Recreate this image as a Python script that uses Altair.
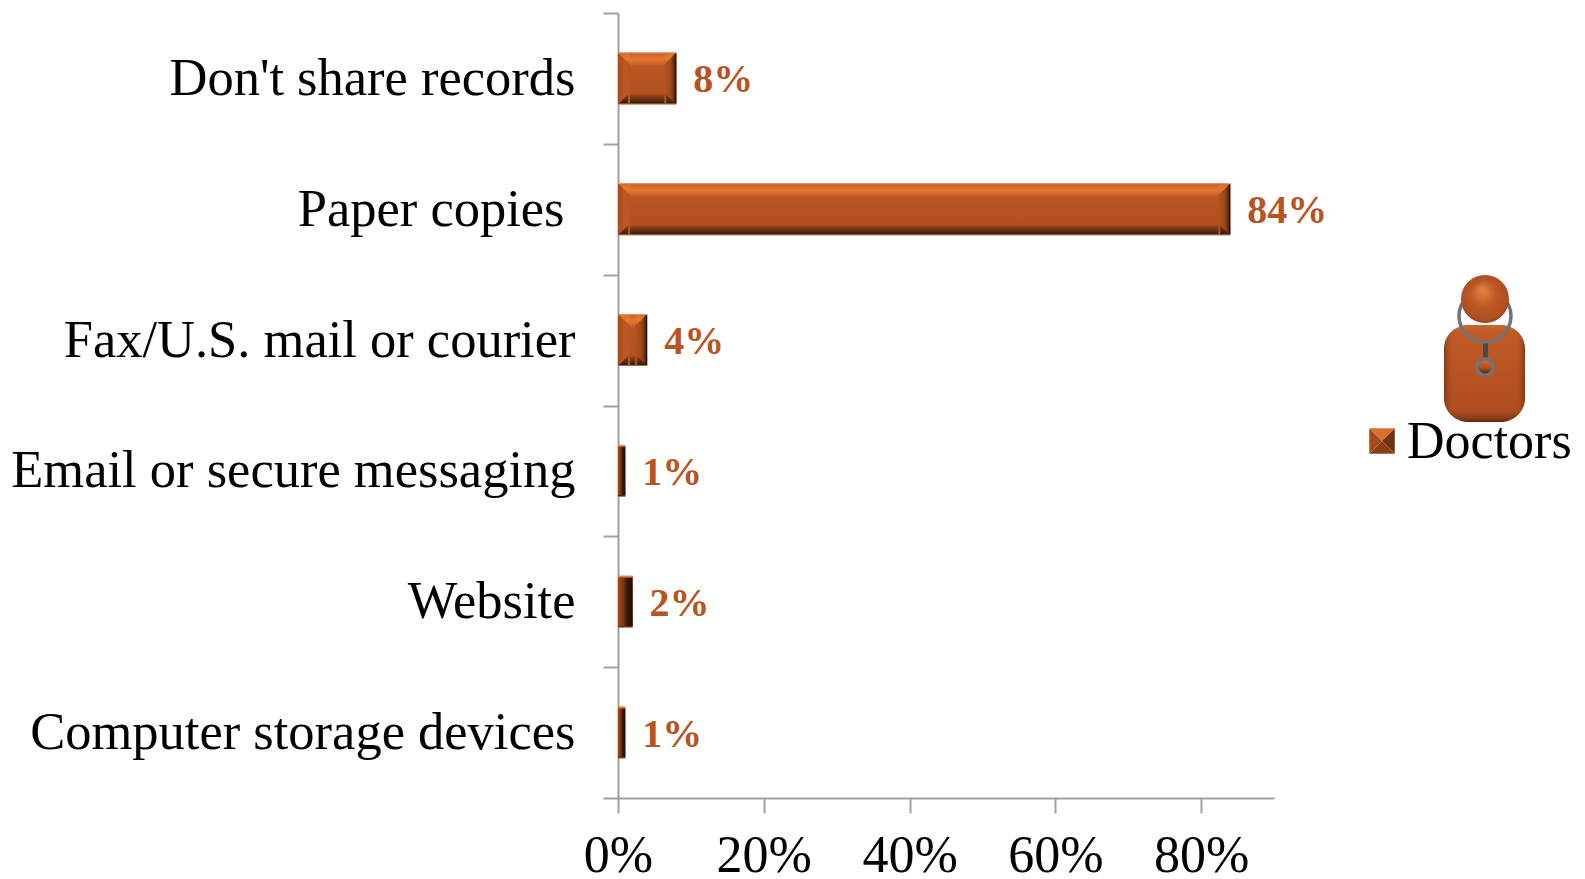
import altair as alt
import pandas as pd

# Survey results: how doctors share patient records
categories = ["Don't share records", "Paper copies", "Fax/U.S. mail or courier",
              "Email or secure messaging", "Website", "Computer storage devices"]
shares = [8, 84, 4, 1, 2, 1]
series = ["Doctors"] * 6
x_ticks = [0, 20, 40, 60, 80]

FONT = "Liberation Serif"
RUST = "#B85423"
AXIS_GREY = "#A0A0A0"
BAR_SIZE = 52

df = pd.DataFrame({"method": categories, "share": shares, "group": series})


def vgrad(stops):
    return alt.LinearGradient(gradient="linear", x1=0, y1=0, x2=0, y2=1,
                              stops=[alt.GradientStop(offset=o, color=c) for o, c in stops])


def hgrad(stops):
    return alt.LinearGradient(gradient="linear", x1=0, y1=0, x2=1, y2=0,
                              stops=[alt.GradientStop(offset=o, color=c) for o, c in stops])


x_scale = alt.Scale(domain=[0, 90], nice=False)
y_enc = alt.Y("method:N", sort=categories, title=None,
              scale=alt.Scale(paddingInner=0, paddingOuter=0),
              axis=alt.Axis(tickBand="extent", tickSize=15, tickWidth=2, tickColor=AXIS_GREY,
                            domainWidth=2, domainColor=AXIS_GREY,
                            labelPadding={"condition": {"test": "datum.label == 'Paper copies'", "value": 39},
                                          "value": 28},
                            labelFont=FONT, labelFontSize=52.5, labelColor="#000000",
                            labelLimit=620, grid=False))
x_enc = alt.X("share:Q", title=None, scale=x_scale,
              axis=alt.Axis(values=x_ticks, labelExpr="datum.value + '%'", tickSize=15, tickWidth=2,
                            tickColor=AXIS_GREY, domainWidth=2, domainColor=AXIS_GREY,
                            labelPadding=17, labelFont=FONT, labelFontSize=52, labelFlush=False,
                            labelColor="#000000", grid=False, labelOverlap=False))

# Flat base of each bar; also feeds the legend, whose swatch is shaded separately below
base = alt.Chart(df).mark_bar(size=BAR_SIZE).encode(
    y=y_enc, x=x_enc,
    color=alt.Color("group:N", title=None,
                    scale=alt.Scale(range=[RUST]),
                    legend=alt.Legend(orient="none", legendX=737, legendY=403, symbolType="square",
                                      symbolSize=650, symbolStrokeWidth=0, symbolOpacity=0,
                                      labelFont=FONT, labelFontSize=52, labelLimit=300,
                                      labelColor="#000000", labelOffset=0, padding=0, rowPadding=0)),
)

# Top highlight and bottom shadow of the bevel
face = alt.Chart(df).mark_bar(size=BAR_SIZE, fill=vgrad([
    (0, "#E9A07C"), (0.03, "#C9622B"), (0.14, "#E8782F"), (0.24, "#C65E28"), (0.27, "#BA5524"),
    (0.80, "#B25020"), (0.84, "#8A3E18"), (0.95, "#4A2410"), (0.97, "#3A1C0C"), (1, "#D99A78"),
])).encode(y=y_enc, x=x_enc)

wide = alt.Chart(df).transform_filter("datum.share >= 4").transform_calculate(origin="0")
narrow = alt.Chart(df).transform_filter("datum.share < 4").transform_calculate(origin="0")

# Soft left edge of the bevel
left_edge = wide.transform_calculate(edge_end="1.65").mark_bar(size=BAR_SIZE - 2, fill=hgrad([
    (0, "#A84A1C"), (0.6, "#BC5825"), (1, "#B85423"),
])).encode(y=y_enc, x=alt.X("origin:Q", title=None, scale=x_scale), x2="edge_end:Q")

# Shaded right edge of the bevel
right_edge = wide.transform_calculate(
    edge_start="datum.share - min(1.65, datum.share * 0.45)"
).mark_bar(size=BAR_SIZE - 2, fill=hgrad([
    (0, "#B55222"), (0.5, "#A04A1C"), (0.8, "#6B3212"), (0.92, "#2E1608"), (1, "#1C0E04"),
])).encode(y=y_enc, x=alt.X("edge_start:Q", title=None, scale=x_scale), x2="share:Q")

# Slim bars are almost entirely taken up by the bevel's dark side
slim_shade = narrow.mark_bar(size=BAR_SIZE - 4, fill=hgrad([
    (0, "#A84A1C"), (0.35, "#7A3815"), (0.6, "#3A1C0C"), (1, "#1C0E04"),
])).encode(y=y_enc, x=alt.X("origin:Q", title=None, scale=x_scale), x2="share:Q")

TOP_FILL = vgrad([(0, "#E9A07C"), (0.1, "#D8702E"), (0.55, "#E8782F"), (1, "#C65E28")])
BOTTOM_FILL = vgrad([(0, "#8A3E18"), (0.7, "#4A2410"), (0.85, "#3A1C0C"), (1, "#D99A78")])

# Mitred corners where the top and bottom strips meet the side edges
mitre_top_right = wide.mark_point(
    filled=True, opacity=1, strokeWidth=0, shape="M-1,-1 L1,-1 L-1,1 Z", size=144,
    xOffset=-6, yOffset=-20, fill=TOP_FILL,
).encode(y=y_enc, x=x_enc)
mitre_top_left = wide.mark_point(
    filled=True, opacity=1, strokeWidth=0, shape="M-1,-1 L1,-1 L1,1 Z", size=144,
    xOffset=6, yOffset=-20, fill=TOP_FILL,
).encode(y=y_enc, x=alt.X("origin:Q", title=None, scale=x_scale))
mitre_bottom_right = wide.mark_point(
    filled=True, opacity=1, strokeWidth=0, shape="M-1,1 L1,1 L-1,-1 Z", size=100,
    xOffset=-5, yOffset=21, fill=BOTTOM_FILL,
).encode(y=y_enc, x=x_enc)
mitre_bottom_left = wide.mark_point(
    filled=True, opacity=1, strokeWidth=0, shape="M-1,1 L1,1 L1,-1 Z", size=100,
    xOffset=5, yOffset=21, fill=BOTTOM_FILL,
).encode(y=y_enc, x=alt.X("origin:Q", title=None, scale=x_scale))

labels = alt.Chart(df).transform_calculate(pct="datum.share + '%'").mark_text(
    align="left", baseline="middle", dx=17, dy=2, font=FONT, fontWeight="bold", fontSize=40, color=RUST,
).encode(y=y_enc, x=x_enc, text="pct:N")

# Doctor figure above the legend, placed in plot pixels
ICON_X = 867
icon_data = pd.DataFrame({"part": ["doctor"]})

body = alt.Chart(icon_data).mark_rect(cornerRadius=24, fill=vgrad([
    (0, "#C9662C"), (0.08, "#C25A26"), (0.5, "#B85423"), (0.88, "#B04E20"), (0.96, "#8A3C18"), (1, "#5E2A10"),
])).encode(x=alt.value(ICON_X - 41), x2=alt.value(ICON_X + 40), y=alt.value(312), y2=alt.value(409))

body_sides = alt.Chart(icon_data).mark_rect(cornerRadius=24, fill=hgrad([
    (0, "rgba(80,35,10,0.55)"), (0.07, "rgba(120,55,20,0.12)"), (0.14, "rgba(184,84,35,0)"),
    (0.86, "rgba(184,84,35,0)"), (0.93, "rgba(120,55,20,0.12)"), (1, "rgba(80,35,10,0.55)"),
])).encode(x=alt.value(ICON_X - 41), x2=alt.value(ICON_X + 40), y=alt.value(312), y2=alt.value(409))

ring = alt.Chart(icon_data).mark_point(
    shape="circle", filled=False, size=2700, stroke="#6E7478", strokeWidth=3.5, opacity=1,
).encode(x=alt.value(ICON_X), y=alt.value(303))

tube = alt.Chart(icon_data).mark_rect(fill="#4A4A4A").encode(
    x=alt.value(ICON_X - 2), x2=alt.value(ICON_X + 3), y=alt.value(328), y2=alt.value(345))

chestpiece = alt.Chart(icon_data).mark_point(
    shape="circle", filled=True, size=400, fill="#6E7478", strokeWidth=0, opacity=1,
).encode(x=alt.value(ICON_X), y=alt.value(354))

chest_core = alt.Chart(icon_data).mark_point(
    shape="circle", filled=True, size=170, strokeWidth=0, opacity=1,
    fill=vgrad([(0, "#D06A2C"), (0.5, "#B85423"), (1, "#5E2A10")]),
).encode(x=alt.value(ICON_X), y=alt.value(354))

head = alt.Chart(icon_data).mark_point(
    shape="circle", filled=True, size=2300, strokeWidth=0, opacity=1,
    fill=alt.RadialGradient(gradient="radial", x1=0.45, y1=0.32, x2=0.5, y2=0.5, r1=0.05, r2=0.55, stops=[
        alt.GradientStop(offset=0, color="#DD7C3E"), alt.GradientStop(offset=0.45, color="#BC5824"),
        alt.GradientStop(offset=0.85, color="#B04E20"), alt.GradientStop(offset=1, color="#6E3214"),
    ]),
).encode(x=alt.value(ICON_X), y=alt.value(286))


# Pyramid-shaded legend swatch
def swatch_facet(path, colour):
    return alt.Chart(icon_data).mark_point(
        filled=True, opacity=1, strokeWidth=0, shape=path, size=650, fill=colour,
    ).encode(x=alt.value(764), y=alt.value(428))


swatch_top = swatch_facet("M-1,-1 L1,-1 L0,0 Z", "#D9702E")
swatch_right = swatch_facet("M1,-1 L1,1 L0,0 Z", "#6E3214")
swatch_bottom = swatch_facet("M-1,1 L1,1 L0,0 Z", "#8A3E18")
swatch_left = swatch_facet("M-1,-1 L-1,1 L0,0 Z", "#A84A1C")

chart = alt.layer(
    base, face, left_edge, right_edge, slim_shade,
    mitre_top_right, mitre_top_left, mitre_bottom_right, mitre_bottom_left, labels,
    body, body_sides, tube, ring, chestpiece, chest_core, head,
    swatch_top, swatch_right, swatch_bottom, swatch_left,
).properties(
    width=656, height=785,
    padding={"left": 618, "top": 13, "right": 311, "bottom": 81},
    autosize=alt.AutoSizeParams(type="none"),
    background="white",
).configure_view(stroke=None)

chart.save("out.html", embed_options={"renderer": "svg", "actions": False})
